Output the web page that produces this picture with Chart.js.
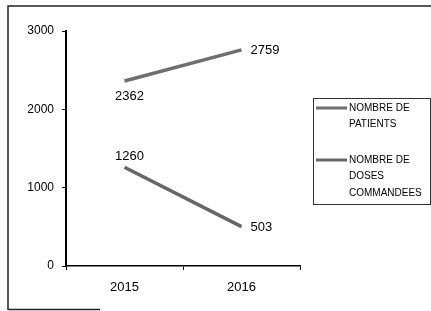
<!DOCTYPE html>
<html>
<head>
<meta charset="utf-8">
<script src="https://cdn.jsdelivr.net/npm/chart.js@4.4.1/dist/chart.umd.min.js"></script>
<style>
  html, body { margin: 0; padding: 0; background: #fff; }
  #wrap { width: 431px; height: 311px; position: relative; }
</style>
</head>
<body>
<div id="wrap"><canvas id="chart"></canvas></div>
<script>
// donnees
const annees = ["2015", "2016"];
const patients = [2362, 2759];
const doses = [1260, 503];
const legendePatients = ["NOMBRE DE", "PATIENTS"];
const legendeDoses = ["NOMBRE DE", "DOSES", "COMMANDEES"];
const ticksY = [0, 1000, 2000, 3000];

const police = "'Liberation Sans', Arial, sans-serif";

// cadre exterieur + legende dessinee a la main (multi lignes)
const cadrePlugin = {
  id: "cadre",
  afterDraw(chart) {
    const ctx = chart.ctx;
    ctx.save();
    ctx.strokeStyle = "#222";
    ctx.lineWidth = 1.5;
    ctx.beginPath();
    ctx.moveTo(8, 310);
    ctx.lineTo(8, 6);
    ctx.lineTo(431, 6);
    ctx.stroke();
    ctx.beginPath();
    ctx.moveTo(8, 309.5);
    ctx.lineTo(100, 309.5);
    ctx.stroke();

    // boite de legende
    ctx.lineWidth = 1;
    ctx.strokeStyle = "#333";
    ctx.strokeRect(313.5, 98.5, 117, 106);
    ctx.font = "10px " + police;
    ctx.fillStyle = "#000";
    ctx.textBaseline = "middle";
    const entrees = [
      { lignes: chart.data.datasets[0].label, y: 108 },
      { lignes: chart.data.datasets[1].label, y: 160 },
    ];
    entrees.forEach((e, i) => {
      ctx.strokeStyle = chart.data.datasets[i].borderColor;
      ctx.lineWidth = 3;
      ctx.beginPath();
      ctx.moveTo(316, e.y);
      ctx.lineTo(347, e.y);
      ctx.stroke();
      e.lignes.forEach((t, k) => {
        ctx.fillText(t, 349, e.y + k * 16.5);
      });
    });
    ctx.restore();
  },
};

// etiquettes de valeurs
const etiquettesPlugin = {
  id: "etiquettes",
  afterDatasetsDraw(chart) {
    const ctx = chart.ctx;
    ctx.save();
    ctx.font = "13px " + police;
    ctx.fillStyle = "#000";
    ctx.textBaseline = "middle";
    chart.data.datasets.forEach((ds, i) => {
      const meta = chart.getDatasetMeta(i);
      meta.data.forEach((pt, j) => {
        const v = String(ds.data[j]);
        if (j === 0) {
          ctx.textAlign = "center";
          const dy = i === 0 ? 15 : -11;
          ctx.fillText(v, pt.x + 5, pt.y + dy);
        } else {
          ctx.textAlign = "left";
          ctx.fillText(v, pt.x + 9, pt.y + 1);
        }
      });
    });
    ctx.restore();
  },
};

const ctx = document.getElementById("chart");
new Chart(ctx, {
  type: "line",
  data: {
    labels: annees,
    datasets: [
      {
        label: legendePatients,
        data: patients,
        borderColor: "#6f6f6f",
        borderWidth: 3.5,
        pointRadius: 0,
        tension: 0,
      },
      {
        label: legendeDoses,
        data: doses,
        borderColor: "#666666",
        borderWidth: 3.5,
        pointRadius: 0,
        tension: 0,
      },
    ],
  },
  options: {
    responsive: true,
    maintainAspectRatio: false,
    animation: false,
    layout: { padding: { top: 31, right: 131, left: 0, bottom: 0 } },
    plugins: {
      legend: { display: false },
      tooltip: { enabled: false },
    },
    scales: {
      x: {
        offset: true,
        grid: { offset: true, drawOnChartArea: false, drawTicks: true, tickLength: 4, color: "#000" },
        border: { color: "#000", width: 1.5 },
        ticks: { color: "#000", font: { family: police, size: 13 }, padding: 10 },
        afterFit(scale) { scale.height = 45; },
      },
      y: {
        min: 0,
        max: 3000,
        afterBuildTicks(scale) { scale.ticks = ticksY.map((v) => ({ value: v })); },
        grid: { drawOnChartArea: false, drawTicks: true, tickLength: 4, color: "#000" },
        border: { color: "#000", width: 2 },
        ticks: {
          color: "#000",
          font: { family: police, size: 12 },
          padding: 8,
          callback: (v) => String(v),
        },
        afterFit(scale) { scale.width = 66; },
      },
    },
  },
  plugins: [cadrePlugin, etiquettesPlugin],
});
</script>
</body>
</html>
